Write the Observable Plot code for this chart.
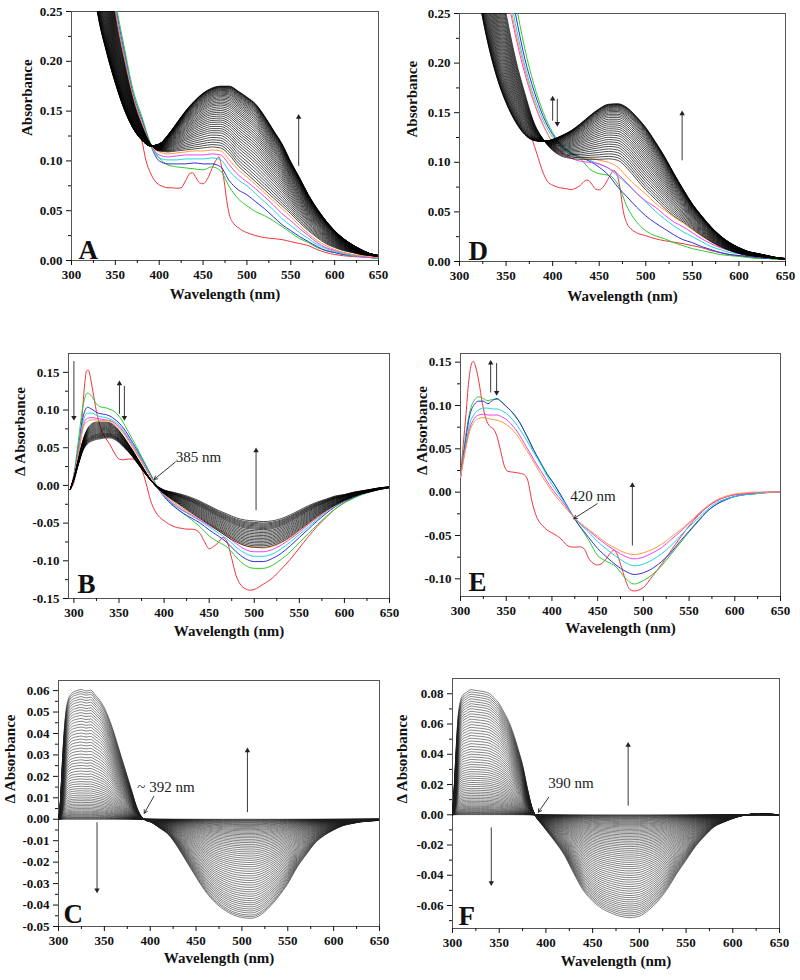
<!DOCTYPE html>
<html><head><meta charset="utf-8">
<script src="https://cdn.jsdelivr.net/npm/d3@7"></script>
<script src="https://cdn.jsdelivr.net/npm/@observablehq/plot@0.6"></script>
<style>
body{margin:0;background:#fff;}
#fig{position:relative;width:800px;height:980px;overflow:hidden;background:#fff;}
#fig svg{position:absolute;}
</style></head><body><div id="fig"></div>
<script>
// ---------- shared ticks ----------
const xMajor = [300,350,400,450,500,550,600,650];
const xMinor = [325,375,425,475,525,575,625];
const yTicksAD = [0,0.05,0.10,0.15,0.20,0.25];
const yMinorAD = [0.025,0.075,0.125,0.175,0.225];
const yTicksB = [-0.15,-0.10,-0.05,0,0.05,0.10,0.15];
const yMinorB = [-0.125,-0.075,-0.025,0.025,0.075,0.125];
const yTicksE = [-0.10,-0.05,0,0.05,0.10,0.15];
const yMinorE = [-0.075,-0.025,0.025,0.075,0.125];
const yTicksC = [-0.05,-0.04,-0.03,-0.02,-0.01,0,0.01,0.02,0.03,0.04,0.05,0.06];
const yMinorC = [-0.045,-0.035,-0.025,-0.015,-0.005,0.005,0.015,0.025,0.035,0.045,0.055];
const yTicksF = [-0.06,-0.04,-0.02,0,0.02,0.04,0.06,0.08];
const yMinorF = [-0.07,-0.05,-0.03,-0.01,0.01,0.03,0.05,0.07];

// ---------- Panel A ----------
const wlA = [300,310,320,330,340,350,360,370,380,390,400,410,420,430,440,450,460,470,480,490,500,510,520,530,540,550,560,570,580,590,600,610,620,630,640,650];
const lastBlackA = [0.46,0.38,0.31,0.247,0.209,0.178,0.152,0.133,0.121,0.115,0.117,0.126,0.138,0.150,0.160,0.168,0.173,0.175,0.175,0.170,0.164,0.157,0.145,0.131,0.117,0.099,0.083,0.066,0.052,0.040,0.030,0.022,0.016,0.011,0.007,0.005];
const firstBlackA = [0.65,0.55,0.46,0.38,0.31,0.245,0.200,0.162,0.136,0.117,0.110,0.109,0.110,0.111,0.112,0.113,0.114,0.113,0.106,0.095,0.087,0.079,0.071,0.063,0.055,0.047,0.038,0.030,0.023,0.017,0.013,0.010,0.008,0.006,0.005,0.004];
const blackPeaksA = [0.113,0.1155,0.118,0.1205,0.123,0.1255,0.128,0.1302,0.1324,0.1346,0.1368,0.139,0.141,0.143,0.145,0.147,0.1488,0.1506,0.1524,0.1542,0.156,0.1575,0.159,0.1605,0.162,0.1633,0.1646,0.1658,0.167,0.168,0.169,0.170,0.1708,0.1716,0.1723,0.173,0.1735,0.174,0.1744,0.1748,0.175];
const greenA = [0.70,0.60,0.50,0.41,0.33,0.262,0.215,0.172,0.145,0.118,0.103,0.096,0.094,0.093,0.092,0.091,0.094,0.090,0.074,0.062,0.055,0.049,0.045,0.040,0.034,0.028,0.022,0.018,0.013,0.010,0.008,0.006,0.005,0.004,0.003,0.003];
const blueA = [0.69,0.59,0.49,0.40,0.322,0.256,0.210,0.168,0.142,0.116,0.100,0.097,0.097,0.097,0.098,0.097,0.097,0.094,0.080,0.071,0.066,0.059,0.052,0.044,0.036,0.030,0.024,0.019,0.014,0.010,0.008,0.006,0.005,0.004,0.003,0.002];
const cyanA = [0.68,0.58,0.48,0.395,0.318,0.253,0.207,0.166,0.140,0.116,0.103,0.101,0.101,0.102,0.102,0.102,0.103,0.101,0.090,0.081,0.075,0.067,0.059,0.051,0.042,0.035,0.028,0.022,0.016,0.012,0.009,0.007,0.005,0.004,0.003,0.002];
const magentaA = [0.67,0.57,0.475,0.39,0.315,0.251,0.205,0.165,0.139,0.116,0.106,0.104,0.105,0.106,0.106,0.106,0.107,0.106,0.096,0.086,0.079,0.072,0.064,0.056,0.047,0.040,0.032,0.025,0.018,0.013,0.010,0.008,0.006,0.004,0.003,0.003];
const orangeA = [0.66,0.56,0.47,0.385,0.312,0.248,0.203,0.164,0.138,0.116,0.109,0.107,0.108,0.109,0.110,0.110,0.111,0.110,0.101,0.091,0.084,0.076,0.068,0.060,0.052,0.044,0.035,0.027,0.020,0.015,0.011,0.008,0.006,0.005,0.004,0.003];
const wlRedA = [378,380,385,390,395,400,405,410,415,420,425,430,435,438,442,446,450,455,460,465,468,471,474,477,480,485,490,495,500,510,520,530,540,550,560,570,580,590,600,620,640,650];
const redA = [0.127,0.121,0.100,0.088,0.080,0.076,0.074,0.073,0.073,0.0725,0.073,0.080,0.0875,0.088,0.083,0.078,0.077,0.082,0.092,0.101,0.104,0.095,0.080,0.060,0.046,0.037,0.033,0.030,0.028,0.025,0.023,0.022,0.021,0.019,0.017,0.015,0.011,0.008,0.006,0.004,0.003,0.002];

// ---------- Panel D ----------
const wlD = wlA;
const lastBlackD = [0.42,0.33,0.27,0.222,0.186,0.160,0.141,0.128,0.122,0.121,0.123,0.127,0.132,0.139,0.147,0.154,0.1585,0.159,0.155,0.146,0.135,0.121,0.106,0.089,0.073,0.058,0.046,0.035,0.026,0.019,0.014,0.010,0.008,0.006,0.004,0.003];
const firstBlackD = [0.70,0.58,0.47,0.38,0.30,0.25,0.205,0.170,0.140,0.123,0.112,0.106,0.104,0.103,0.103,0.103,0.1035,0.102,0.094,0.083,0.072,0.063,0.054,0.046,0.040,0.033,0.026,0.020,0.015,0.011,0.008,0.006,0.005,0.004,0.003,0.002];
const blackPeaksD = [0.1035,0.106,0.1085,0.111,0.1135,0.116,0.1183,0.1206,0.1229,0.1252,0.1275,0.1296,0.1317,0.1338,0.1358,0.1378,0.1397,0.1416,0.1434,0.1452,0.1468,0.1483,0.1497,0.151,0.1522,0.1533,0.1543,0.1552,0.156,0.1567,0.1573,0.1578,0.1582,0.1585];
const greenD = [0.90,0.75,0.60,0.48,0.38,0.31,0.262,0.215,0.178,0.150,0.130,0.117,0.110,0.1035,0.093,0.0885,0.087,0.078,0.055,0.040,0.031,0.026,0.023,0.019,0.016,0.013,0.011,0.009,0.007,0.006,0.005,0.004,0.003,0.003,0.002,0.002];
const blueD = [0.85,0.70,0.57,0.46,0.37,0.30,0.25,0.205,0.172,0.146,0.128,0.116,0.109,0.105,0.101,0.095,0.087,0.075,0.065,0.055,0.046,0.039,0.033,0.027,0.022,0.019,0.015,0.012,0.009,0.007,0.006,0.005,0.004,0.003,0.003,0.002];
const cyanD = [0.80,0.66,0.54,0.44,0.35,0.29,0.24,0.198,0.166,0.142,0.125,0.114,0.108,0.105,0.102,0.098,0.094,0.086,0.078,0.069,0.060,0.051,0.043,0.036,0.030,0.025,0.020,0.015,0.012,0.009,0.008,0.006,0.005,0.004,0.003,0.003];
const magentaD = [0.75,0.62,0.51,0.41,0.33,0.275,0.228,0.190,0.160,0.137,0.120,0.109,0.104,0.101,0.100,0.0985,0.094,0.088,0.079,0.069,0.061,0.055,0.047,0.040,0.035,0.029,0.023,0.018,0.014,0.011,0.009,0.007,0.005,0.004,0.003,0.003];
const orangeD = [0.77,0.64,0.52,0.42,0.34,0.28,0.233,0.194,0.162,0.138,0.120,0.110,0.106,0.1045,0.104,0.102,0.100,0.095,0.085,0.076,0.068,0.059,0.052,0.045,0.039,0.032,0.026,0.020,0.015,0.012,0.009,0.007,0.005,0.004,0.003,0.003];
const wlRedD = [377,378,383,390,395,400,405,410,415,420,425,430,435,438,442,446,450,455,460,463,466,469,472,476,480,484,490,500,510,520,530,540,550,560,570,580,590,600,620,640,650];
const redD = [0.128,0.124,0.109,0.089,0.080,0.077,0.075,0.074,0.0733,0.0725,0.074,0.077,0.0815,0.082,0.078,0.073,0.0722,0.076,0.084,0.089,0.0917,0.088,0.076,0.050,0.038,0.033,0.029,0.026,0.023,0.021,0.0195,0.018,0.016,0.014,0.011,0.009,0.007,0.006,0.004,0.003,0.002];

// ---------- Panel B ----------
const wlB = [296,300,305,310,315,320,325,330,335,340,345,350,355,360,365,370,375,380,385,390,395,400,410,420,430,440,450,460,470,480,490,500,510,520,530,540,550,560,570,580,590,600,610,620,630,640,650];
const lastBlackB = [-0.005,0.008,0.028,0.046,0.055,0.059,0.061,0.062,0.063,0.063,0.061,0.057,0.051,0.045,0.038,0.030,0.022,0.014,0.007,0.001,-0.003,-0.006,-0.009,-0.012,-0.016,-0.021,-0.027,-0.033,-0.038,-0.043,-0.046,-0.047,-0.048,-0.047,-0.044,-0.039,-0.033,-0.027,-0.022,-0.018,-0.014,-0.012,-0.009,-0.007,-0.005,-0.003,-0.002];
const firstBlackB = [-0.005,0.010,0.035,0.060,0.075,0.082,0.084,0.084,0.084,0.083,0.079,0.073,0.065,0.056,0.047,0.037,0.027,0.017,0.008,0.000,-0.006,-0.011,-0.020,-0.028,-0.036,-0.044,-0.052,-0.060,-0.068,-0.075,-0.080,-0.082,-0.082,-0.080,-0.075,-0.068,-0.059,-0.050,-0.041,-0.033,-0.026,-0.020,-0.015,-0.011,-0.008,-0.005,-0.003];
const blackMinsB = [-0.082,-0.080,-0.078,-0.076,-0.074,-0.072,-0.070,-0.068,-0.066,-0.064,-0.062,-0.060,-0.058,-0.0565,-0.055,-0.0535,-0.052,-0.0505,-0.049,-0.047];
const greenB = [-0.005,0.015,0.060,0.105,0.1225,0.118,0.108,0.104,0.103,0.101,0.098,0.092,0.083,0.072,0.061,0.050,0.038,0.027,0.015,0.004,-0.006,-0.014,-0.026,-0.036,-0.045,-0.055,-0.067,-0.075,-0.082,-0.095,-0.106,-0.110,-0.110,-0.106,-0.098,-0.088,-0.076,-0.064,-0.052,-0.041,-0.031,-0.023,-0.017,-0.012,-0.008,-0.005,-0.003];
const blueB = [-0.005,0.013,0.050,0.090,0.1036,0.101,0.097,0.095,0.094,0.092,0.088,0.083,0.076,0.067,0.057,0.047,0.036,0.025,0.014,0.003,-0.007,-0.015,-0.027,-0.036,-0.043,-0.050,-0.059,-0.067,-0.076,-0.088,-0.097,-0.101,-0.101,-0.097,-0.090,-0.080,-0.069,-0.058,-0.047,-0.037,-0.028,-0.021,-0.016,-0.011,-0.008,-0.005,-0.003];
const cyanB = [-0.005,0.012,0.046,0.084,0.096,0.096,0.093,0.091,0.090,0.088,0.085,0.080,0.073,0.064,0.055,0.045,0.035,0.024,0.013,0.003,-0.006,-0.014,-0.025,-0.033,-0.040,-0.047,-0.055,-0.063,-0.071,-0.082,-0.090,-0.094,-0.094,-0.091,-0.084,-0.075,-0.065,-0.055,-0.045,-0.035,-0.027,-0.020,-0.015,-0.011,-0.007,-0.005,-0.003];
const magentaB = [-0.005,0.011,0.043,0.078,0.089,0.090,0.089,0.088,0.087,0.086,0.083,0.078,0.071,0.062,0.053,0.043,0.033,0.022,0.012,0.002,-0.006,-0.013,-0.024,-0.032,-0.039,-0.046,-0.053,-0.060,-0.068,-0.077,-0.085,-0.088,-0.088,-0.085,-0.079,-0.071,-0.062,-0.052,-0.043,-0.034,-0.026,-0.019,-0.014,-0.010,-0.007,-0.005,-0.003];
const orangeB = [-0.005,0.011,0.041,0.075,0.085,0.087,0.087,0.086,0.086,0.085,0.081,0.076,0.069,0.060,0.051,0.041,0.031,0.021,0.011,0.002,-0.006,-0.012,-0.022,-0.030,-0.037,-0.044,-0.051,-0.058,-0.065,-0.073,-0.080,-0.082,-0.083,-0.081,-0.076,-0.069,-0.060,-0.051,-0.042,-0.034,-0.026,-0.019,-0.014,-0.010,-0.007,-0.005,-0.003];
const wlRedB = [296,300,303,306,309,312,314,316,318,321,325,330,335,340,345,350,355,360,365,370,375,380,385,390,395,400,405,410,415,420,425,430,435,440,445,450,455,460,465,470,475,480,485,490,495,500,510,520,530,540,550,560,570,580,590,600,610,620,630,640,650];
const redB = [-0.005,0.004,0.020,0.045,0.090,0.135,0.152,0.153,0.145,0.125,0.098,0.075,0.063,0.054,0.043,0.035,0.034,0.035,0.035,0.031,0.022,0.003,-0.020,-0.034,-0.042,-0.047,-0.051,-0.054,-0.056,-0.057,-0.058,-0.058,-0.059,-0.064,-0.075,-0.084,-0.081,-0.076,-0.069,-0.075,-0.097,-0.120,-0.132,-0.137,-0.139,-0.138,-0.131,-0.123,-0.111,-0.098,-0.083,-0.068,-0.054,-0.042,-0.031,-0.023,-0.016,-0.011,-0.007,-0.004,-0.002];

// ---------- Panel E ----------
const wlE = [300,305,310,315,320,325,330,335,340,345,350,355,360,365,370,375,380,385,390,395,400,410,425,440,450,460,470,480,490,500,510,520,530,540,550,560,570,580,590,600,610,620,630,640,650];
const greenE = [0.017,0.060,0.092,0.106,0.110,0.108,0.1055,0.107,0.107,0.104,0.099,0.094,0.087,0.080,0.070,0.059,0.048,0.039,0.030,0.021,0.013,-0.004,-0.031,-0.055,-0.073,-0.080,-0.086,-0.099,-0.106,-0.102,-0.095,-0.085,-0.072,-0.059,-0.046,-0.034,-0.022,-0.014,-0.008,-0.005,-0.003,-0.002,-0.001,0,0];
const blueE = [0.017,0.055,0.088,0.101,0.105,0.105,0.102,0.106,0.108,0.104,0.099,0.094,0.088,0.080,0.070,0.060,0.049,0.039,0.029,0.020,0.013,-0.004,-0.031,-0.052,-0.065,-0.075,-0.084,-0.091,-0.095,-0.093,-0.088,-0.080,-0.070,-0.057,-0.045,-0.033,-0.022,-0.014,-0.009,-0.005,-0.003,-0.002,-0.001,0,0];
const cyanE = [0.017,0.050,0.078,0.090,0.095,0.097,0.097,0.096,0.096,0.094,0.091,0.086,0.080,0.072,0.064,0.055,0.046,0.037,0.028,0.018,0.009,-0.006,-0.030,-0.046,-0.057,-0.066,-0.074,-0.081,-0.085,-0.083,-0.078,-0.071,-0.062,-0.051,-0.040,-0.030,-0.020,-0.012,-0.008,-0.005,-0.003,-0.002,-0.001,-0.0005,0];
const magentaE = [0.017,0.048,0.073,0.085,0.089,0.090,0.089,0.089,0.089,0.087,0.084,0.079,0.073,0.065,0.056,0.047,0.038,0.029,0.021,0.012,0.004,-0.009,-0.030,-0.044,-0.053,-0.061,-0.068,-0.074,-0.077,-0.075,-0.070,-0.064,-0.055,-0.046,-0.036,-0.026,-0.017,-0.010,-0.006,-0.003,-0.002,-0.001,0,0,0];
const orangeE = [0.017,0.046,0.070,0.081,0.085,0.086,0.085,0.084,0.083,0.081,0.078,0.074,0.068,0.061,0.052,0.044,0.035,0.026,0.017,0.009,0.001,-0.012,-0.030,-0.043,-0.051,-0.059,-0.065,-0.070,-0.072,-0.070,-0.066,-0.060,-0.052,-0.044,-0.035,-0.025,-0.016,-0.009,-0.005,-0.002,-0.001,0,0,0,0];
const wlRedE = [300,303,306,309,312,314,317,320,324,328,332,336,340,344,348,352,358,364,370,374,378,382,386,390,395,400,405,410,415,420,425,430,435,440,445,450,455,460,465,468,471,475,480,485,490,495,500,510,520,530,540,550,560,570,580,590,600,620,640,650];
const redE = [0.017,0.055,0.090,0.128,0.148,0.151,0.143,0.128,0.102,0.084,0.076,0.073,0.064,0.047,0.030,0.024,0.023,0.022,0.020,0.012,-0.010,-0.025,-0.034,-0.039,-0.044,-0.047,-0.050,-0.054,-0.060,-0.063,-0.0635,-0.063,-0.065,-0.076,-0.082,-0.084,-0.082,-0.076,-0.069,-0.067,-0.071,-0.083,-0.100,-0.112,-0.114,-0.113,-0.110,-0.097,-0.083,-0.068,-0.053,-0.039,-0.027,-0.017,-0.010,-0.005,-0.003,-0.001,0,0];

// ---------- Panels C and F ----------
const wlCF = [300,302,304,306,308,310,315,320,325,330,335,340,345,350,355,360,365,370,375,380,385,390,395,400,410,420,430,440,450,460,470,480,490,500,510,520,530,540,550,560,570,580,590,600,610,620,630,640,650];
const outerC = [0.000,0.008,0.025,0.040,0.050,0.055,0.059,0.060,0.0605,0.0598,0.0602,0.058,0.0555,0.052,0.047,0.041,0.034,0.027,0.020,0.013,0.006,0.0015,-0.0005,-0.0012,-0.004,-0.0072,-0.013,-0.020,-0.027,-0.0335,-0.0385,-0.042,-0.0445,-0.0458,-0.0462,-0.0447,-0.041,-0.036,-0.030,-0.0225,-0.0165,-0.011,-0.0075,-0.005,-0.003,-0.002,-0.0012,-0.0008,-0.0005];
const peaksC = [0.0605,0.0595,0.0585,0.0572,0.056,0.0548,0.0535,0.0522,0.051,0.0497,0.0484,0.047,0.0457,0.0443,0.043,0.0416,0.0402,0.0388,0.0374,0.036,0.0346,0.0332,0.0318,0.0304,0.029,0.0277,0.0264,0.0251,0.0238,0.0225,0.0212,0.020,0.0188,0.0176,0.0165,0.0154,0.0143,0.0133,0.0123,0.0113,0.0104,0.0095,0.0087,0.0079,0.0071,0.0064,0.0057,0.005,0.0044,0.0038,0.0033,0.0028,0.0023,0.0019,0.0015,0.0011,0.0008,0.0005,0.0002,0];
const outerF = [0.000,0.020,0.045,0.065,0.074,0.078,0.081,0.0827,0.0822,0.0818,0.0812,0.080,0.077,0.0735,0.068,0.062,0.054,0.044,0.033,0.018,0.005,-0.002,-0.006,-0.010,-0.018,-0.027,-0.039,-0.050,-0.057,-0.062,-0.065,-0.0672,-0.068,-0.067,-0.063,-0.057,-0.049,-0.039,-0.030,-0.021,-0.014,-0.008,-0.005,-0.0025,-0.0006,0.0004,0.0007,0.0004,0];
const peaksF = [0.0827,0.0812,0.0797,0.0782,0.0766,0.075,0.0734,0.0718,0.0701,0.0684,0.0667,0.065,0.0632,0.0614,0.0596,0.0578,0.056,0.0542,0.0524,0.0506,0.0488,0.047,0.0452,0.0434,0.0417,0.040,0.0383,0.0366,0.0349,0.0333,0.0317,0.0301,0.0286,0.0271,0.0256,0.0242,0.0228,0.0214,0.0201,0.0188,0.0175,0.0163,0.0151,0.014,0.0129,0.0118,0.0108,0.0098,0.0089,0.008,0.0072,0.0064,0.0056,0.0049,0.0042,0.0036,0.003,0.0025,0.002,0.0015,0.0011,0.0007,0.0004,0.0001];

// ---------- annotations (data coordinates) ----------
const arrowsA = [{x:559,y1:0.095,y2:0.144}];
const arrowsD = [{x:539,y1:0.102,y2:0.149},{x:400,y1:0.142,y2:0.164},{x:405,y1:0.164,y2:0.139}];
const arrowsB = [{x:300,y1:0.165,y2:0.090},{x:350.5,y1:0.095,y2:0.135},{x:356,y1:0.132,y2:0.090},{x:502,y1:-0.033,y2:0.046}];
const arrowsE = [{x:333,y1:0.115,y2:0.149},{x:339.5,y1:0.149,y2:0.115},{x:488,y1:-0.0615,y2:0.0077}];
const arrowsC = [{x:506,y1:0.0033,y2:0.032},{x:342,y1:-0.0014,y2:-0.033}];
const arrowsF = [{x:488,y1:0.006,y2:0.046},{x:341.5,y1:-0.0084,y2:-0.045}];
const pointersB = [{x1:412.5,y1:0.031,x2:389,y2:0.008}];
const pointersE = [{x1:449.5,y1:-0.0134,x2:424,y2:-0.0305}];
const pointersC = [{x1:404,y1:0.0107,x2:393.5,y2:0.0028}];
const pointersF = [{x1:403,y1:0.0116,x2:392,y2:0.0017}];
const notesB = [{x:413,y:0.038,t:"385 nm"}];
const notesE = [{x:420,y:-0.005,t:"420 nm"}];
const notesC = [{x:386,y:0.0149,t:"~ 392 nm"}];
const notesF = [{x:402.5,y:0.0207,t:"390 nm"}];

// ---------- colours ----------
const RED="#f0343c", GREEN="#2ccc2c", BLUE="#3030dd", CYAN="#22d4e0", MAGENTA="#f040f0", ORANGE="#ff9a3a";

// ---------- helpers ----------
const rowsOf = (wl, v, id) => wl.map((x,i)=>({x, y:v[i], id}));
function blendFamily(wl, first, last, refIdx, levels) {
  const f0 = first[refIdx], f1 = last[refIdx], out = [];
  levels.forEach((p,k)=>{ const w=(p-f0)/(f1-f0); wl.forEach((x,i)=>out.push({x, y:first[i]+w*(last[i]-first[i]), id:k})); });
  return out;
}
function scaledFamily(wl, outer, levels) {
  const m = d3.max(outer), out = [];
  levels.forEach((p,k)=>{ const s=p/m; wl.forEach((x,i)=>out.push({x, y:outer[i]*s, id:k})); });
  return out;
}
const fmt2 = d => (Math.abs(d)<1e-9?0:d).toFixed(2);
const FONT = "'Liberation Serif','Times New Roman',serif";

function panel(c) {
  const marks = [
    Plot.frame({stroke:"#555"}),
    Plot.axisX({ticks:xMinor, tickSize:3, tickFormat:()=>"", label:null}),
    Plot.axisX({ticks:xMajor, tickSize:5, tickFormat:d=>String(d), label:null}),
    Plot.axisY({ticks:c.yMinor, tickSize:3, tickFormat:()=>"", label:null}),
    Plot.axisY({ticks:c.yTicks, tickSize:5, tickFormat:fmt2, label:null}),
  ];
  for (const s of c.series) marks.push(Plot.line(rowsOf(s.wl, s.v, 0), {x:"x", y:"y", stroke:s.color, strokeWidth:1, curve:"monotone-x", clip:true}));
  if (c.family) marks.push(Plot.line(c.family, {x:"x", y:"y", z:"id", stroke:c.famColor||"#000", strokeWidth:c.famWidth||0.7, curve:"monotone-x", clip:true}));
  if (c.arrows) {
    marks.push(Plot.link(c.arrows, {x1:"x", x2:"x", y1:"y1", y2:"y2", stroke:"#222", strokeWidth:0.9}));
    marks.push(Plot.dot(c.arrows, {x:"x", y:"y2", symbol:"triangle2", r:2.6, fill:"#222", stroke:"none", rotate:d=>d.y2>d.y1?0:180}));
  }
  if (c.pointers) marks.push(Plot.arrow(c.pointers, {x1:"x1", y1:"y1", x2:"x2", y2:"y2", stroke:"#222", strokeWidth:0.9, headLength:6}));
  if (c.notes) marks.push(Plot.text(c.notes, {x:"x", y:"y", text:"t", textAnchor:"start", fontSize:15, fontWeight:"normal", fill:"#222"}));
  marks.push(Plot.text([c.letter], {text:d=>d, frameAnchor:"bottom-left", dx:c.ldx, dy:c.ldy, textAnchor:"start", lineAnchor:"bottom", fontSize:27, fontWeight:"bold"}));
  marks.push(Plot.text(["Wavelength (nm)"], {text:d=>d, frameAnchor:"bottom", dy:c.xlDy, fontSize:15, fontWeight:"bold"}));
  marks.push(Plot.text([c.yLabel], {text:d=>d, frameAnchor:"left", dx:c.ylDx, rotate:-90, fontSize:15, fontWeight:"bold"}));
  const svg = Plot.plot({
    width:c.width, height:c.height,
    marginTop:c.m[0], marginRight:c.m[1], marginBottom:c.m[2], marginLeft:c.m[3],
    x:{domain:c.xDomain}, y:{domain:c.yDomain},
    style:{fontFamily:FONT, fontSize:"13px", fontWeight:"bold", background:"transparent", overflow:"visible", color:"#111"},
    marks
  });
  svg.style.left = c.left+"px"; svg.style.top = c.top+"px";
  document.getElementById("fig").appendChild(svg);
}

panel({left:0, top:0, width:400, height:310, m:[11,22,50,71], xDomain:[300,650], yDomain:[0,0.25],
  yTicks:yTicksAD, yMinor:yMinorAD, yLabel:"Absorbance", letter:"A", ldx:7, ldy:-2, xlDy:38, ylDx:-44,
  series:[{wl:wlRedA,v:redA,color:RED},{wl:wlA,v:greenA,color:GREEN},{wl:wlA,v:blueA,color:BLUE},{wl:wlA,v:cyanA,color:CYAN},{wl:wlA,v:magentaA,color:MAGENTA},{wl:wlA,v:orangeA,color:ORANGE}],
  family:blendFamily(wlA, firstBlackA, lastBlackA, wlA.indexOf(470), blackPeaksA), arrows:arrowsA});

panel({left:400, top:0, width:400, height:310, m:[13,15,49,59], xDomain:[300,650], yDomain:[0,0.25],
  yTicks:yTicksAD, yMinor:yMinorAD, yLabel:"Absorbance", letter:"D", ldx:9, ldy:-2, xlDy:39, ylDx:-47,
  series:[{wl:wlRedD,v:redD,color:RED},{wl:wlD,v:greenD,color:GREEN},{wl:wlD,v:blueD,color:BLUE},{wl:wlD,v:cyanD,color:CYAN},{wl:wlD,v:magentaD,color:MAGENTA},{wl:wlD,v:orangeD,color:ORANGE}],
  family:blendFamily(wlD, firstBlackD, lastBlackD, wlD.indexOf(460), blackPeaksD), arrows:arrowsD});

panel({left:0, top:330, width:400, height:320, m:[23,11,52,68], xDomain:[294,650], yDomain:[-0.15,0.175],
  yTicks:yTicksB, yMinor:yMinorB, yLabel:"Δ Absorbance", letter:"B", ldx:9, ldy:-6, xlDy:37, ylDx:-48,
  series:[{wl:wlRedB,v:redB,color:RED},{wl:wlB,v:greenB,color:GREEN},{wl:wlB,v:blueB,color:BLUE},{wl:wlB,v:cyanB,color:CYAN},{wl:wlB,v:magentaB,color:MAGENTA},{wl:wlB,v:orangeB,color:ORANGE}],
  family:blendFamily(wlB, firstBlackB, lastBlackB, wlB.indexOf(500), blackMinsB), arrows:arrowsB, pointers:pointersB, notes:notesB});

panel({left:400, top:330, width:400, height:320, m:[23,20,54,60], xDomain:[300,650], yDomain:[-0.1204,0.16],
  yTicks:yTicksE, yMinor:yMinorE, yLabel:"Δ Absorbance", letter:"E", ldx:8, ldy:-6, xlDy:36, ylDx:-38,
  series:[{wl:wlRedE,v:redE,color:RED},{wl:wlE,v:greenE,color:GREEN},{wl:wlE,v:blueE,color:BLUE},{wl:wlE,v:cyanE,color:CYAN},{wl:wlE,v:magentaE,color:MAGENTA},{wl:wlE,v:orangeE,color:ORANGE}],
  arrows:arrowsE, pointers:pointersE, notes:notesE});

panel({left:0, top:660, width:400, height:320, m:[20,21,54,58], xDomain:[300,650], yDomain:[-0.05,0.0647],
  yTicks:yTicksC, yMinor:yMinorC, yLabel:"Δ Absorbance", letter:"C", ldx:5, ldy:-4, xlDy:36, ylDx:-48,
  series:[], family:scaledFamily(wlCF, outerC, peaksC), famWidth:0.55, famColor:"#1c1c1c", arrows:arrowsC, pointers:pointersC, notes:notesC});

panel({left:400, top:660, width:400, height:320, m:[18,21,52,52], xDomain:[300,650], yDomain:[-0.0752,0.0901],
  yTicks:yTicksF, yMinor:yMinorF, yLabel:"Δ Absorbance", letter:"F", ldx:6, ldy:-4, xlDy:37, ylDx:-50,
  series:[], family:scaledFamily(wlCF, outerF, peaksF), famWidth:0.55, famColor:"#1c1c1c", arrows:arrowsF, pointers:pointersF, notes:notesF});
</script></body></html>
